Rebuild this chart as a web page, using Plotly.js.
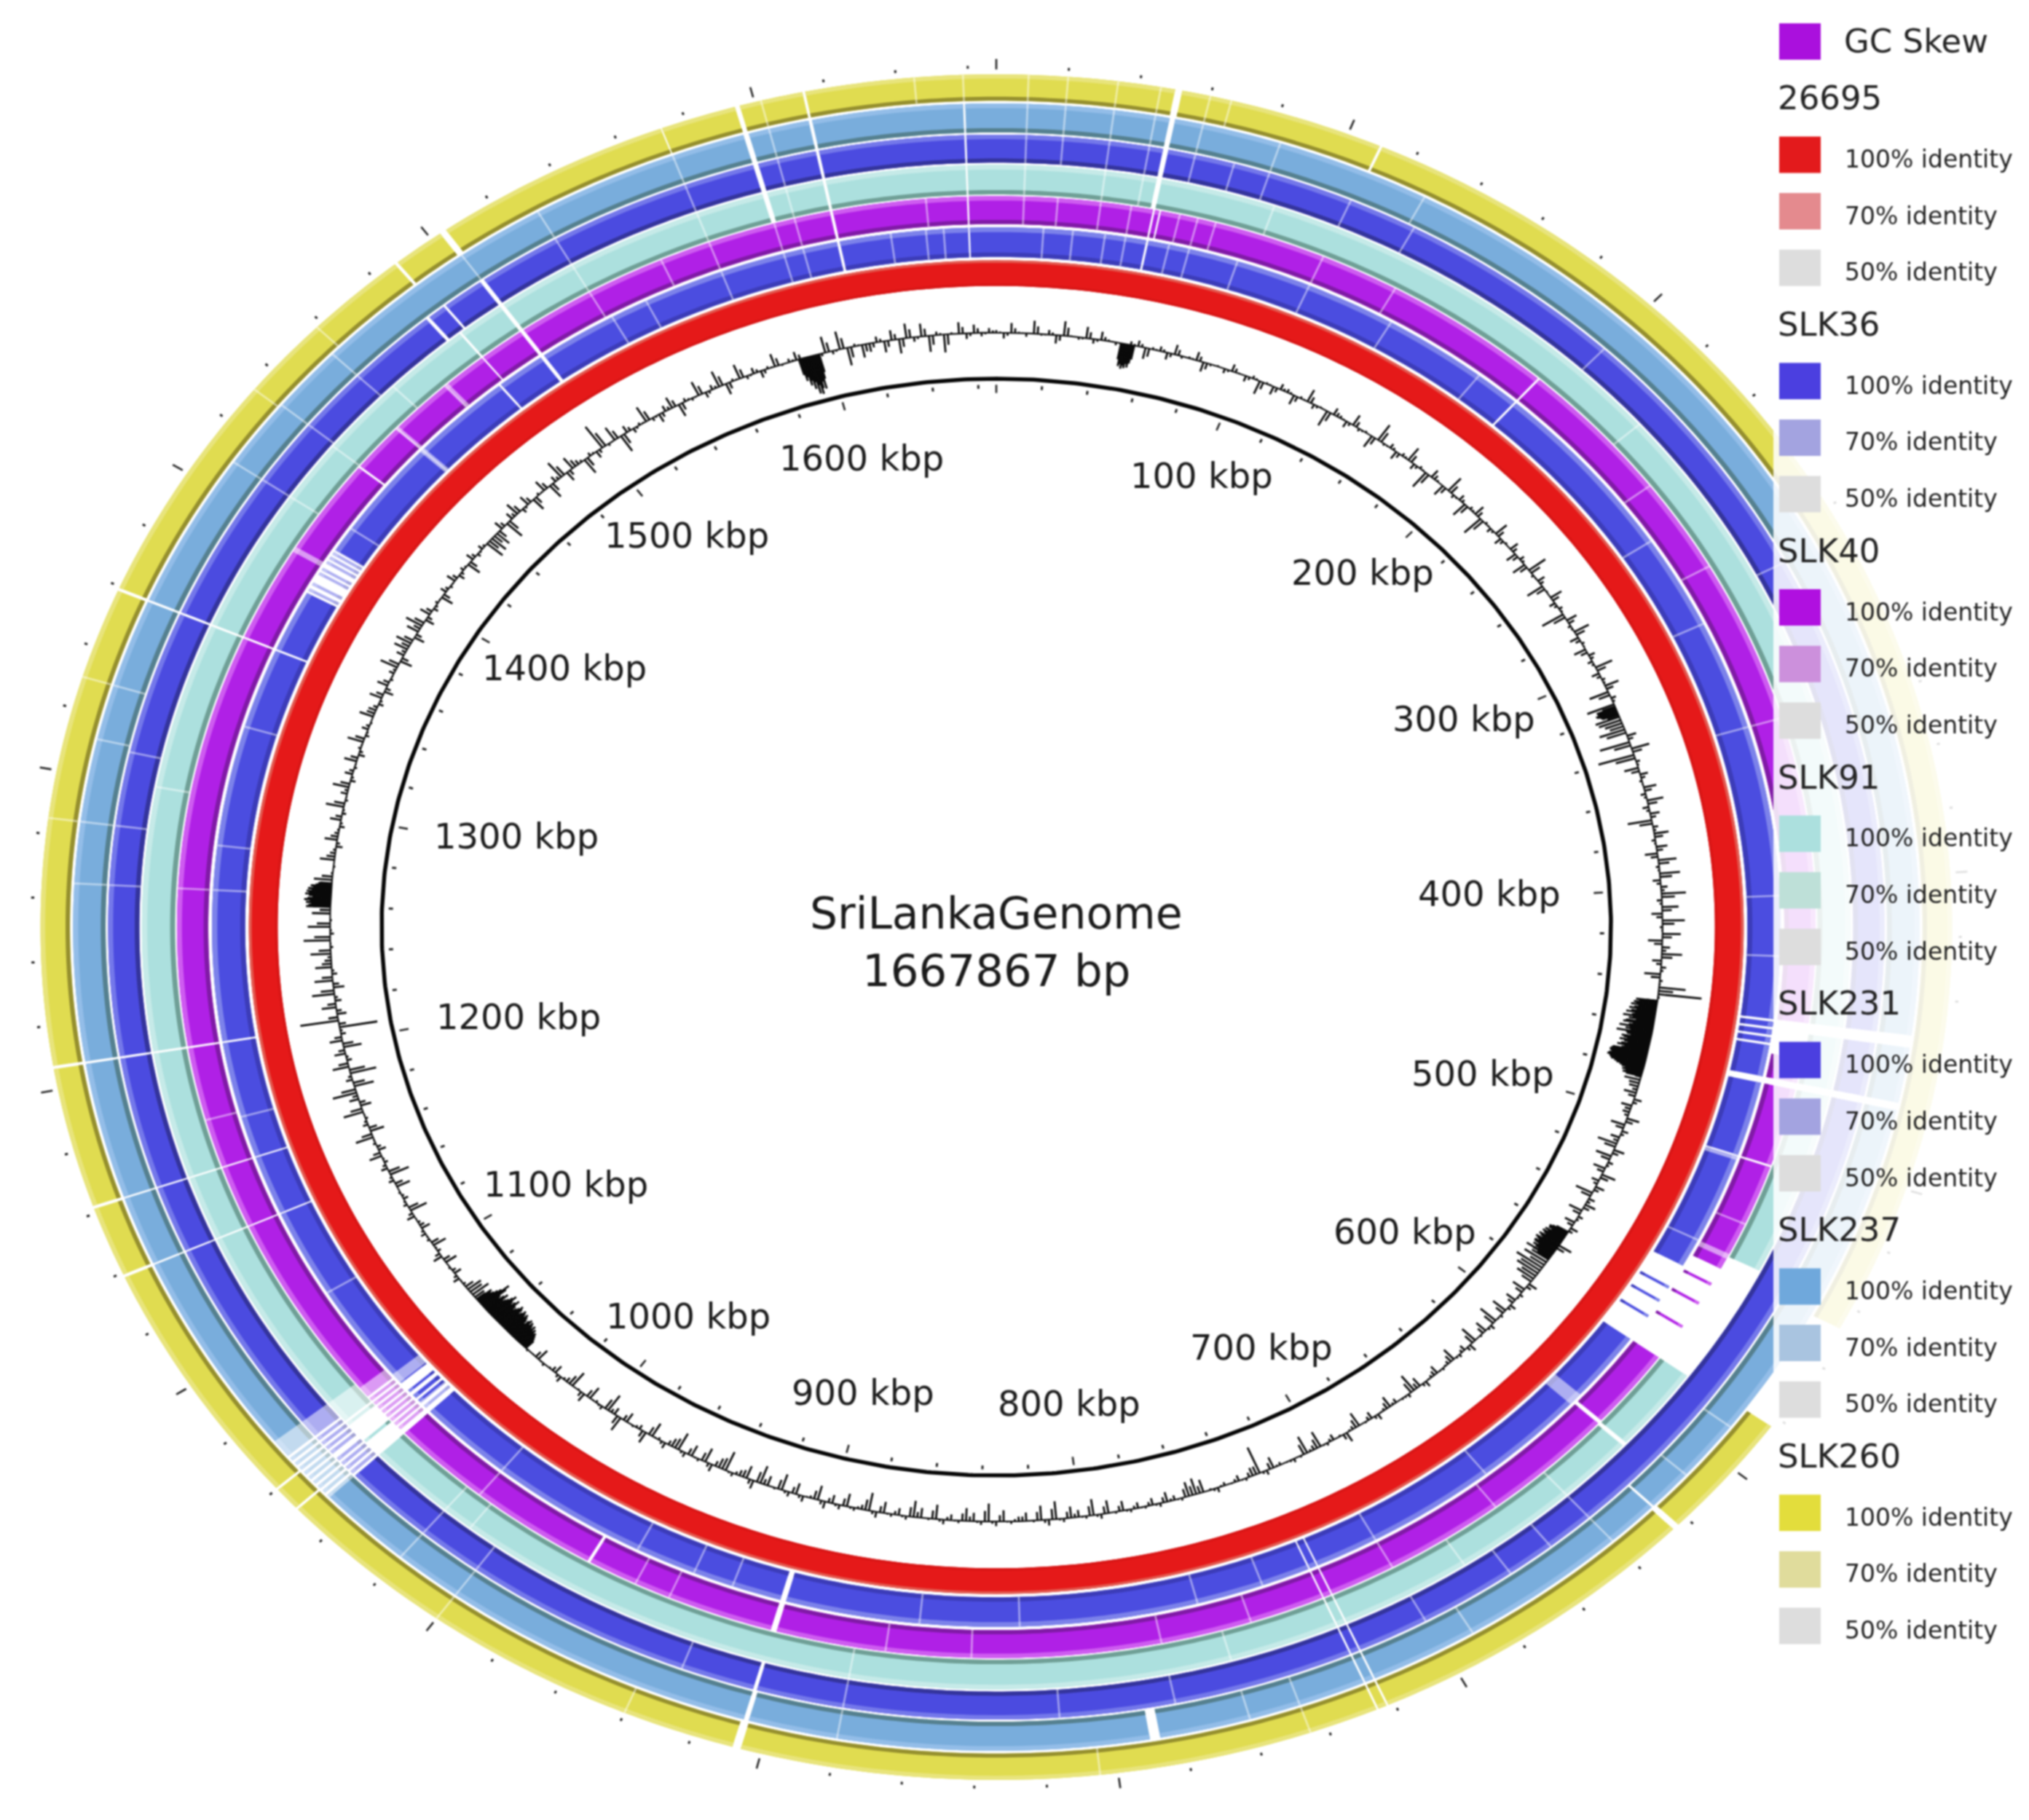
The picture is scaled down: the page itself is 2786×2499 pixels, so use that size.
<!DOCTYPE html>
<html><head><meta charset="utf-8">
<script src="https://cdn.plot.ly/plotly-3.0.1.min.js"></script>
<style>html,body{margin:0;padding:0;background:#fff}#plot{filter:blur(0.9px)}</style></head>
<body><div id="plot" style="width:2786px;height:2499px"></div>
<script>
var genomeLength = 1667867 / 1000;
var genomeName = "SriLankaGenome";
var genomeSize = "1667867 bp";
var ringNames = ["26695","SLK36","SLK40","SLK91","SLK231","SLK237","SLK260"];
var ringMain = ["#E51919","#4B4DE0","#B020E6","#ACE0DE","#4B4BE0","#79ADDC","#E0DC50"];
var ringOuter = ["#E25A50","#7C82EA","#CE5CF0","#C6EAE8","#7478EA","#93BDE8","#E8E47C"];
var ringInner = ["#D81616","#3C3CB8","#801AA6","#6F9F96","#34349C","#55808F","#958F2E"];
var ring70 = ["#E48A8E","#A3A3E0","#CC90DC","#BEE0D8","#A3A3E0","#A9C4E0","#E0DC9C"];
var ringLegend = ["#E31A1C","#4B3FE0","#B010E0","#ACE0DE","#4B3FE0","#6FA8DC","#E3DD3C"];
var ring50 = "#DDDDDD";
var gcColor = "#AA10DD";

var gapsR1 = [[1613.5,1614.5],[1658.3,1658.9],[51.1,51.9],[1503.3,1504.7],[1358.6,1359.4],[1206.6,1207.4],[1161.7,1162.3],[1138.7,1139.3],[721.7,722.3],[724.7,725.3],[906,908],[191.6,192.4],[505,505.6],[452,453],[455,456],[458,459],[461,462],[474,476.5],[551,560],[561,566],[567,573],[574,584],[1048,1050],[1051,1052.5],[1054,1055],[1056.5,1058],[1059,1062.5],[1485.6,1486.4],[1383,1384],[1385,1386.5],[1387.5,1391],[1392,1393],[1394,1396],[1397,1398],[1399,1400],[1401,1401.8]];
var gapsR2 = [[1613.5,1614.5],[1658.3,1658.9],[51.1,51.8],[53.2,53.8],[1503.3,1504.7],[1358.6,1359.4],[1206.6,1207.4],[1161.7,1162.3],[1138.7,1139.3],[721.7,722.3],[724.7,725.3],[906,908],[971.5,972.6],[191.6,192.4],[613.5,615],[505,505.8],[452,465],[474,476.5],[546,552],[553,560],[561,570],[571,584],[1048,1050],[1051,1052],[1053,1054],[1055,1056],[1057,1058],[1059,1060],[1061,1062],[1063,1064],[1065,1066],[1487.7,1488.3],[1431.2,1432]];
var gapsR3 = [[1613.5,1614.5],[1658.3,1658.9],[50.2,51.8],[1594.2,1595.8],[1503.3,1504.7],[1358.6,1359.4],[1206.6,1207.4],[1161.7,1162.3],[1138.7,1139.3],[721.7,722.3],[724.7,725.3],[614,615.5],[452,456],[474,476.5],[541,584],[1048,1054],[1055,1062],[1063,1064],[1487.6,1488.4]];
var gapsR4 = [[1613.5,1614.5],[1658.3,1658.9],[50.2,51.8],[1594.2,1595.8],[1503.3,1504.7],[1482.9,1484.1],[1489.6,1490.4],[1358.6,1359.4],[1206.6,1207.4],[1161.7,1162.3],[1138.7,1139.3],[721.7,722.3],[724.7,725.3],[906.4,907.6],[452,456],[474,476.5],[1048,1049],[1050,1051],[1052,1053],[1054,1055],[1056,1058],[1059,1060],[1061,1062],[1063,1064],[1065,1066]];
var gapsR5 = [[1613.5,1614.5],[1658.3,1658.9],[50.2,51.8],[1594.2,1595.8],[1358.6,1359.4],[1206.6,1207.4],[1161.7,1162.3],[1138.7,1139.3],[721.7,722.3],[724.7,725.3],[906,907.5],[786.5,789.5],[623.6,624.4],[452,456],[474,476.5],[1049,1050],[1051,1052],[1053,1054],[1055,1056],[1057,1058],[1059,1060],[1061,1062],[1063,1064],[1065,1066]];
var gapsR6 = [[1613.6,1614.4],[50,52],[1594.3,1595.7],[1503,1505],[1487.2,1488.2],[1358.5,1359.5],[1206.5,1207.5],[1161.5,1162.5],[1138.5,1139.5],[721.7,722.3],[724.7,725.3],[905.8,908.2],[623,625],[547,583],[109.6,110.4],[1059.6,1060.4],[1051.4,1052.2],[1572.6,1573]];
var ringGaps = [[],gapsR1,gapsR2,gapsR3,gapsR4,gapsR5,gapsR6];

var paleR1 = [[1063,1067],[1048,1053],[611,616],[505,507],[1383,1402],[1449,1451]];
var paleR2 = [[1048,1070],[1472,1473.4],[1449.6,1451],[1394,1396],[540,542]];
var paleR3 = [[1062,1072]];
var paleR4 = [[1048,1072]];
var paleR5 = [[1048,1072]];
var paleR6 = [];
var ringPale = [[],paleR1,paleR2,paleR3,paleR4,paleR5,paleR6];

var linesR1 = [1572.8,1601.8,1595,1632,1644,1650,16,26,37,44,59,66,83,109,140,176,262,298,340,405,428,540,655,700,742,765,826,860,925,939,960,1015,1105,1178,1282,1265,1328,1411.6,1450,1532,1545];
var linesR2 = [1572.8,1601.8,1595,1645,9,20,34,44,60,66,72,109,135,245,280,340,385,528,660,700,750,780,842,870,943,955,1015,1180,1265,1450,1472,1530,1556];
var linesR3 = [1572.8,1601.8,9,34,46,88,226,640,680,760,880,1010,1020,1300,1410,1432,1460,1530];
var linesR4 = [1572.8,1601.8,9,20,34,46,60,72,83,109,130,200,290,640,655,670,700,780,815,880,930,1000,1020,1285,1265,1310,1410,1433,1455,1530];
var linesR5 = [1572.8,1601.8,9,20,34,46,60,83,128,590,610,640,690,745,760,880,1000,1020,1285,1265,1312,1330,1410,1433,1455,1504,1530];
var linesR6 = [1601.8,1645,1658.6,9,20,34,46,60,66,1285,1330,1432,1458,805,745,940,1000];
var ringLines = [[],linesR1,linesR2,linesR3,linesR4,linesR5,linesR6];

/* GC skew, one value every 3 kbp from 0 kbp, + outward */
var gcSkew = [
8,-14,20,5,-10,24,-6,12,-18,26,4,-8,22,-12,18,6,-9,-4,10,14,
-22,7,12,-16,20,-8,6,18,-20,-7,5,-12,16,4,-14,9,-25,6,-18,14,
10,-20,7,24,-12,5,-28,16,8,-15,22,-9,6,-24,30,-7,12,-18,9,26,
-14,8,-30,18,6,-22,28,-10,14,-26,9,20,-32,7,-12,24,-16,6,18,-20,
12,-24,30,-8,16,-28,5,22,-14,10,-34,20,-9,26,-18,8,-22,14,-12,28,
-16,9,24,-30,12,-38,-32,-35,-28,-36,18,-40,28,-45,10,-24,16,-8,22,-12,
26,-14,18,-34,12,24,-10,20,-22,28,-9,30,-16,14,34,-12,26,-20,32,-8,
28,-24,16,30,-18,12,-26,8,36,50,-20,-18,-22,-25,-20,-24,-28,-22,-26,-30,
-24,-20,-26,-18,-22,16,-20,-15,22,-24,14,-18,-30,20,-26,12,-22,24,-16,18,
-28,14,20,-24,12,-20,16,-30,-26,24,-34,-38,-36,-40,-35,-30,18,-24,10,-20,
14,-26,8,-30,12,-22,6,-28,16,-14,9,-24,-10,7,-18,-8,14,-20,-30,10,
6,-12,-22,-8,14,-16,5,-26,-10,20,-6,-14,8,-28,-12,-30,6,10,4,-9,
-22,12,-40,-18,8,-14,4,-10,12,-6,-24,-28,-26,8,-12,-20,10,-16,7,-14,
9,-20,6,-24,12,-28,8,-16,-22,10,-30,14,-26,6,-18,-12,8,-22,12,-30,
10,-18,-24,8,-14,12,-26,6,-20,-28,10,-16,8,-22,14,-30,-12,9,-24,12,
-18,16,-26,-8,14,-22,12,-28,6,-20,-30,18,-24,-14,10,-32,-20,16,-26,8,
-22,12,-30,-18,14,-8,-26,22,-12,6,-20,26,-16,-30,10,-8,-24,18,-6,-28,
-12,14,-18,-6,8,-22,-4,6,-10,-12,-14,-16,-18,-20,-22,-24,-26,-28,-30,-26,
-8,14,-16,6,-22,18,-10,-24,8,12,-18,-8,16,-28,10,-12,6,-24,12,-30,
14,-10,22,-16,8,28,-24,12,-8,30,-20,18,34,-30,14,-36,26,-12,20,-28,
22,-12,-46,46,-18,24,-14,32,-20,28,-12,26,14,30,-8,36,-10,32,-6,28,
34,36,32,30,28,6,-6,24,12,-14,22,10,-12,20,-10,28,-8,14,26,-12,
16,-8,22,-14,8,26,-10,14,-6,24,16,-12,22,-18,20,-8,12,28,-22,16,
24,26,-20,22,28,-18,20,-12,8,-22,14,-8,18,-14,10,-24,16,-10,12,-30,
-28,-26,18,-30,16,24,-12,20,-24,8,22,-26,14,30,-20,24,12,-28,10,-16,
38,-8,26,-30,16,-12,8,28,-10,-18,14,22,-24,10,-8,26,-14,12,28,-22,
8,26,-10,14,-16,8,24,-6,10,18,-12,-8,-14,28,-10,30,-30,8,-24,-18,
14,-22,20,-26,26,-12,24,-28,10,-30,6,22,-14,18,-10,12];
/* GC skew windows in between, every 3 kbp from 1.5 kbp */
var gcSkewBetween = [
3,-6,8,2,0,11,-3,5,-9,12,0,-4,10,-5,7,2,-3,0,4,6,
-12,3,5,-7,9,0,3,8,-10,-2,0,-5,7,0,-6,4,-11,3,-8,5,
4,-9,3,10,-5,0,-13,7,3,-6,9,-4,0,-11,14,-3,5,-8,4,11,
-6,3,-14,8,0,-10,12,-4,6,-12,4,9,-15,3,-5,10,-7,0,8,-9,
5,-11,13,-3,7,-12,0,10,-6,4,-15,9,-4,12,-8,3,-10,6,-5,12,
-7,4,10,-14,5,-20,-18,-22,-16,-20,8,-18,12,-20,4,-11,7,-3,10,-5,
12,-6,8,-15,5,11,-4,9,-10,13,-4,14,-7,6,15,-5,12,-9,14,-3,
12,-11,7,13,-8,5,-12,3,16,4,-10,-8,-12,-14,-10,-12,-15,-11,-13,-14,
-12,-9,-13,-8,-10,7,-9,-7,10,-11,6,-8,-14,9,-12,5,-10,11,-7,8,
-13,6,9,-11,5,-9,7,-14,-12,11,-18,-20,-18,-22,-18,-14,8,-11,4,-9,
6,-12,3,-14,5,-10,0,-13,7,-6,4,-11,-4,3,-8,-3,6,-9,-14,4,
0,-5,-10,-3,6,-7,0,-12,-4,9,0,-6,3,-13,-5,-14,0,4,0,-4,
-10,5,-12,-8,3,-6,0,-4,5,0,-11,-13,-12,3,-5,-9,4,-7,3,-6,
4,-9,0,-11,5,-13,3,-7,-10,4,-14,6,-12,0,-8,-5,3,-10,5,-14,
4,-8,-11,3,-6,5,-12,0,-9,-13,4,-7,3,-10,6,-14,-5,4,-11,5,
-8,7,-12,-3,6,-10,5,-13,0,-9,-14,8,-11,-6,4,-15,-9,7,-12,3,
-10,5,-14,-8,6,-3,-12,10,-5,0,-9,12,-7,-14,4,-3,-11,8,0,-13,
-5,6,-8,0,3,-10,0,0,-4,-6,-8,-8,-10,-10,-12,-12,-14,-14,-16,-12,
-3,6,-7,0,-10,8,-4,-11,3,5,-8,-3,7,-13,4,-5,0,-11,5,-14,
6,-4,10,-7,3,13,-11,5,-3,14,-9,8,16,-14,6,-17,12,-5,9,-13,
10,-5,-10,12,-8,11,-6,15,-9,13,-5,12,6,14,-3,17,-4,15,0,13,
16,17,15,14,13,0,0,11,5,-6,10,4,-5,9,-4,13,-3,6,12,-5,
7,-3,10,-6,3,12,-4,6,0,11,7,-5,10,-8,9,-3,5,13,-10,7,
11,12,-9,10,13,-8,9,-5,3,-10,6,-3,8,-6,4,-11,7,-4,5,-14,
-13,-12,8,-14,7,11,-5,9,-11,3,10,-12,6,14,-9,11,5,-13,4,-7,
18,-3,12,-14,7,-5,3,13,-4,-8,6,10,-11,4,-3,12,-6,5,13,-10,
3,12,-4,6,-7,3,11,0,4,8,-5,-3,-6,13,-4,14,-14,3,-11,-8,
6,-10,9,-12,12,-5,11,-13,4,-14,0,10,-6,8,-4,5];

/* densely packed GC skew runs, one value every 0.6 kbp */
var gcDense1Start = 1042;
var gcDense1 = [-18,-22,-26,-30,-28,-34,-30,-38,-32,-36,-40,-34,-42,-38,-30,-36,-40,-44,-38,-42,-46,-40,-36,-44,-48,-42,-38,-34,-40,-50,-44,-38,-42,-52,-46,-40,-36,-32,-44,-38,-30,-34,-48,-56,-42,-36,-30,-26,-22,-18];
var gcDense2Start = 450;
var gcDense2 = [-35,-30,-38,-34,-42,-30,-36,-44,-32,-40,-48,-34,-38,-52,-36,-42,-30,-46,-50,-34,-40,-55,-38,-44,-36,-58,-42,-40,-34,-48,-44,-38,-50,-42,-36,-46,-52,-40,-44,-58,-60,-62,-60,-58,-62,-64,-60,-58,-56,-50,-46,-40,-36,-30,-34,-28,-32,-26];
var gcDense3Start = 1588;
var gcDense3 = [-30,-42,-36,-52,-44,-60,-48,-70,-55,-72,-62,-50,-64,-46,-34];
var gcDense4Start = 50;
var gcDense4 = [-30,-42,-38,-46,-40,-44,-36,-42,-34,-26];
var gcDense5Start = 560;
var gcDense5 = [-22,-28,-24,-32,-26,-36,-30,-38,-34,-30,-40,-36,-32,-42,-38,-34,-40,-36,-30,-38,-32,-26,-34,-24,-20];
var gcDense6Start = 1260;
var gcDense6 = [28,36,32,40,34,42,38,30,36,42,34,40,32,38,30,34,26,22];
var gcDense7Start = 316;
var gcDense7 = [-22,-28,-32,-30,-34,-30,-26,-20];

var majorEvery = 100, minorEvery = 20;
var labelKbp = [100,200,300,400,500,600,700,800,900,1000,1100,1200,1300,1400,1500,1600];

var legendHeaders = ["GC Skew"].concat(ringNames);
var legendIdentity = ["100% identity","70% identity","50% identity"];

/* ---------- geometry ---------- */
var W=2786,H=2499,cx=1368,cy=1273,ux=8.44,uy=7.53;
var circleR=100, gcBase=108.4;
var labelNudge=[-3,-5,1,-3,3,-3,-5,-2,0,6,3,4,3,3,7,2];
var ringIn=[116.9,122.2,128.2,133.6,139.4,144.9,150.7];
var ringOut=[121.6,127.6,133.3,139.0,144.5,150.2,155.5];
function ang(k){return k/genomeLength*2*Math.PI;}
function px(k,r){return r*Math.sin(ang(k));}
function py(k,r){return r*Math.cos(ang(k));}
function skewHeight(v){return (v<0?-1:1)*Math.pow(Math.abs(v),1.5)/50;}
function band(xs,ys,s,e,r0,r1){
  var n=Math.max(1,Math.ceil((e-s)/2.5)),i,k;
  for(i=0;i<=n;i++){k=s+(e-s)*i/n;xs.push(px(k,r1));ys.push(py(k,r1));}
  for(i=n;i>=0;i--){k=s+(e-s)*i/n;xs.push(px(k,r0));ys.push(py(k,r0));}
  xs.push(px(s,r1));ys.push(py(s,r1));xs.push(null);ys.push(null);
}
function segments(gaps){
  var sorted=gaps.slice().sort(function(a,b){return a[0]-b[0];}),out=[],p=0;
  sorted.forEach(function(g){if(g[0]>p)out.push([p,g[0]]);p=Math.max(p,g[1]);});
  if(p<genomeLength)out.push([p,genomeLength]);
  return out;
}
function fillTrace(xs,ys,c){return {type:'scatter',mode:'none',x:xs,y:ys,fill:'toself',fillcolor:c,hoverinfo:'skip',showlegend:false};}
var traces=[];
ringNames.forEach(function(name,i){
  var segs=segments(ringGaps[i]),th=ringOut[i]-ringIn[i];
  var a=[[ringIn[i],ringOut[i],ringMain[i]],
         [ringOut[i]-th*(i==0?0.10:0.16),ringOut[i],ringOuter[i]],
         [ringIn[i],ringIn[i]+th*(i==0?0.10:0.15),ringInner[i]]];
  a.forEach(function(b){
    var xs=[],ys=[];
    segs.forEach(function(s){band(xs,ys,s[0],s[1],b[0],b[1]);});
    traces.push(fillTrace(xs,ys,b[2]));
  });
  var xp=[],yp=[];
  ringPale[i].forEach(function(p){
    segments(ringGaps[i]).forEach(function(s){
      var l=Math.max(s[0],p[0]),h=Math.min(s[1],p[1]);
      if(h>l)band(xp,yp,l,h,ringIn[i],ringOut[i]);
    });
  });
  if(xp.length)traces.push(fillTrace(xp,yp,'rgba(255,255,255,0.55)'));
  var xl=[],yl=[];
  ringLines[i].forEach(function(k){
    xl.push(px(k,ringIn[i]),px(k,ringOut[i]),null);
    yl.push(py(k,ringIn[i]),py(k,ringOut[i]),null);
  });
  if(xl.length)traces.push({type:'scatter',mode:'lines',x:xl,y:yl,line:{color:'rgba(255,255,255,0.5)',width:2.6},hoverinfo:'skip',showlegend:false});
});
/* inner circle */
(function(){
  var xs=[],ys=[],k;
  for(k=0;k<=genomeLength+2;k+=2){xs.push(px(k,circleR));ys.push(py(k,circleR));}
  traces.push({type:'scatter',mode:'lines',x:xs,y:ys,line:{color:'#050505',width:5.5},hoverinfo:'skip',showlegend:false});
  var bx=[],by=[];
  for(k=0;k<=genomeLength+2;k+=3){bx.push(px(k,gcBase));by.push(py(k,gcBase));}
  traces.push({type:'scatter',mode:'lines',x:bx,y:by,line:{color:'#111',width:2.2},hoverinfo:'skip',showlegend:false});
})();
/* GC skew bars */
(function(){
  var xs=[],ys=[];
  function bar(k,h){var r=gcBase+h;xs.push(px(k,gcBase),px(k,r),null);ys.push(py(k,gcBase),py(k,r),null);}
  gcSkew.forEach(function(v,i){bar(i*3,skewHeight(v));});
  gcSkewBetween.forEach(function(v,i){if(v)bar(i*3+1.5,skewHeight(v*1.5));});
  [[gcDense1Start,gcDense1],[gcDense2Start,gcDense2],[gcDense3Start,gcDense3],[gcDense4Start,gcDense4],[gcDense5Start,gcDense5],[gcDense6Start,gcDense6],[gcDense7Start,gcDense7]].forEach(function(d){
    d[1].forEach(function(v,i){bar(d[0]+i*0.6,v/10);});
  });
  traces.push({type:'scatter',mode:'lines',x:xs,y:ys,line:{color:'#0a0a0a',width:2.8},hoverinfo:'skip',showlegend:false});
})();
/* ticks */
(function(){
  function add(arr,r0,r1,w){
    var xs=[],ys=[];
    arr.forEach(function(k){xs.push(px(k,r0),px(k,r1),null);ys.push(py(k,r0),py(k,r1),null);});
    traces.push({type:'scatter',mode:'lines',x:xs,y:ys,line:{color:'#222',width:w},hoverinfo:'skip',showlegend:false});
  }
  var major=[],minor=[],k;
  for(k=0;k<genomeLength;k+=minorEvery){if(k%majorEvery===0)major.push(k);else minor.push(k);}
  add(major,97.4,98.9,2.6);add(minor,98.2,98.9,3);
  add(major,156.4,158.3,2.6);add(minor,156.6,157.1,3);
})();

var ann=[];
labelKbp.forEach(function(k,i){
  var s=Math.sin(ang(k)),c=Math.cos(ang(k));
  ann.push({xref:'x',yref:'y',x:s*(100-8.84-10.95*Math.pow(Math.abs(s),3))+0.7+labelNudge[i]/4.75,y:c*88+0.45,text:k+' kbp',showarrow:false,xanchor:'center',yanchor:'middle',font:{family:'DejaVu Sans',size:48,color:'#1a1a1a'}});
});
ann.push({xref:'paper',yref:'paper',x:cx/W,y:1-1254/H,text:genomeName,showarrow:false,xanchor:'center',yanchor:'middle',font:{family:'DejaVu Sans',size:60,color:'#1a1a1a'}});
ann.push({xref:'paper',yref:'paper',x:cx/W,y:1-1332/H,text:genomeSize,showarrow:false,xanchor:'center',yanchor:'middle',font:{family:'DejaVu Sans',size:61,color:'#1a1a1a'}});

/* legend */
var shapes=[{type:'rect',xref:'paper',yref:'paper',x0:2435/W,x1:1,y0:0,y1:1,fillcolor:'rgba(255,255,255,0.86)',line:{width:0},layer:'above'}];
function swatch(row,c){
  var y=57+77.7*row;
  shapes.push({type:'rect',xref:'paper',yref:'paper',x0:2443/W,x1:2500/W,y0:1-(y+25)/H,y1:1-(y-25)/H,fillcolor:c,line:{width:0},layer:'above'});
}
function ltext(row,x,t,size,dy){
  ann.push({xref:'paper',yref:'paper',x:x/W,y:1-(57+77.7*row+dy)/H,text:t,showarrow:false,xanchor:'left',yanchor:'middle',font:{family:'DejaVu Sans',size:size,color:'#222'}});
}
swatch(0,gcColor);ltext(0,2530,legendHeaders[0],45,0);
ringNames.forEach(function(n,i){
  var r=1+i*4;
  ltext(r,2439,n,45,0);
  swatch(r+1,ringLegend[i]);ltext(r+1,2531,legendIdentity[0],33,6);
  swatch(r+2,ring70[i]);ltext(r+2,2531,legendIdentity[1],33,6);
  swatch(r+3,ring50);ltext(r+3,2531,legendIdentity[2],33,6);
});

Plotly.newPlot('plot',traces,{
  width:W,height:H,autosize:false,margin:{l:0,r:0,t:0,b:0,pad:0},
  paper_bgcolor:'#fff',plot_bgcolor:'#fff',showlegend:false,
  xaxis:{visible:false,range:[-cx/ux,(W-cx)/ux],fixedrange:true},
  yaxis:{visible:false,range:[-(H-cy)/uy,cy/uy],fixedrange:true},
  annotations:ann,shapes:shapes
},{staticPlot:true,displayModeBar:false});
</script></body></html>
